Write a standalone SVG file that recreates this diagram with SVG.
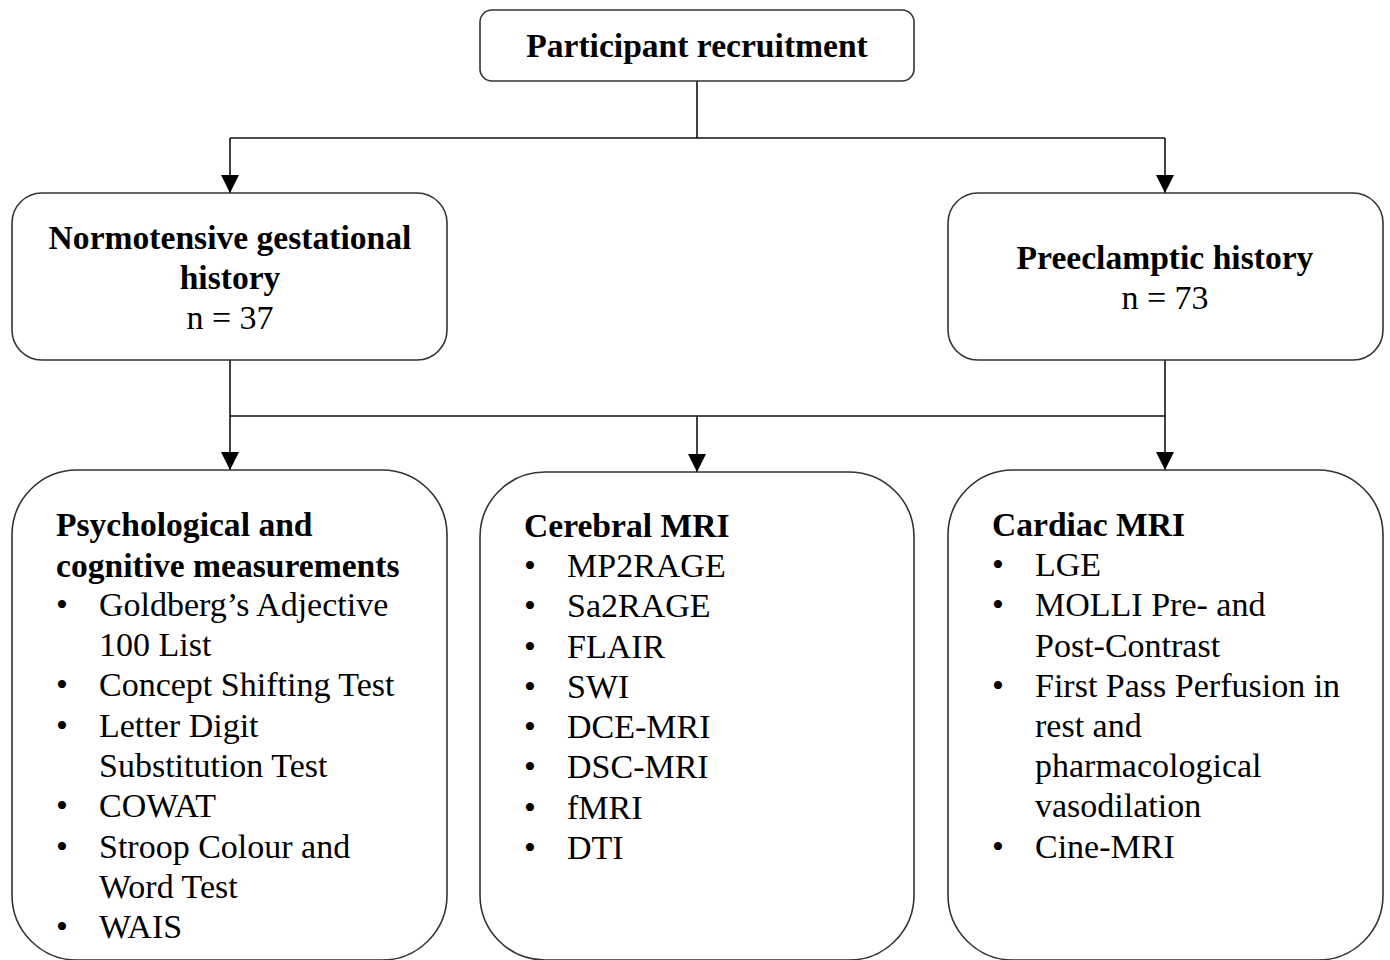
<svg xmlns="http://www.w3.org/2000/svg" width="1390" height="960" viewBox="0 0 1390 960">
<style>
.box{fill:#fff;stroke:#333;stroke-width:1.6}
.ln{fill:none;stroke:#111;stroke-width:1.6}
text{font-family:"Liberation Serif","Times New Roman",serif;font-size:34px;fill:#000}
.b{font-weight:bold;font-size:33.6px}
.c{text-anchor:middle}
</style>
<defs>
<marker id="ah" markerWidth="18" markerHeight="18" refX="18" refY="9" orient="auto" markerUnits="userSpaceOnUse">
<path d="M0,0 L18,9 L0,18 Z" fill="#000"/>
</marker>
</defs>
<rect width="1390" height="960" fill="#fff"/>
<g id="connectors">
<path class="ln" d="M697,81 V138"/>
<path class="ln" d="M230,138 H1165"/>
<path class="ln" d="M230,138 V193" marker-end="url(#ah)"/>
<path class="ln" d="M1165,138 V193" marker-end="url(#ah)"/>
<path class="ln" d="M230,360 V470" marker-end="url(#ah)"/>
<path class="ln" d="M1165,360 V470" marker-end="url(#ah)"/>
<path class="ln" d="M230,416 H1165"/>
<path class="ln" d="M697,416 V472" marker-end="url(#ah)"/>
</g>
<g id="recruitment">
<rect class="box" x="480" y="10" width="434" height="71" rx="12"/>
<text class="b c" x="697" y="57">Participant recruitment</text>
</g>
<g id="normotensive">
<rect class="box" x="12" y="193" width="435" height="167" rx="30"/>
<text class="b c" x="230" y="249">Normotensive gestational</text>
<text class="b c" x="230" y="289">history</text>
<text class="c" x="230" y="329">n = 37</text>
</g>
<g id="preeclamptic">
<rect class="box" x="948" y="193" width="435" height="167" rx="30"/>
<text class="b c" x="1165" y="269">Preeclamptic history</text>
<text class="c" x="1165" y="309">n = 73</text>
</g>
<g id="psychological">
<rect class="box" x="12" y="470" width="435" height="490" rx="65"/>
<text class="b" x="56" y="536">Psychological and</text>
<text class="b" x="56" y="577">cognitive measurements</text>
<text x="56" y="616">•</text><text x="99" y="616">Goldberg’s Adjective</text>
<text x="99" y="656">100 List</text>
<text x="56" y="696">•</text><text x="99" y="696">Concept Shifting Test</text>
<text x="56" y="737">•</text><text x="99" y="737">Letter Digit</text>
<text x="99" y="777">Substitution Test</text>
<text x="56" y="817">•</text><text x="99" y="817">COWAT</text>
<text x="56" y="858">•</text><text x="99" y="858">Stroop Colour and</text>
<text x="99" y="898">Word Test</text>
<text x="56" y="938">•</text><text x="99" y="938">WAIS</text>
</g>
<g id="cerebral">
<rect class="box" x="480" y="472" width="434" height="488" rx="65"/>
<text class="b" x="524" y="537">Cerebral MRI</text>
<text x="524" y="577">•</text><text x="567" y="577">MP2RAGE</text>
<text x="524" y="617">•</text><text x="567" y="617">Sa2RAGE</text>
<text x="524" y="658">•</text><text x="567" y="658">FLAIR</text>
<text x="524" y="698">•</text><text x="567" y="698">SWI</text>
<text x="524" y="738">•</text><text x="567" y="738">DCE-MRI</text>
<text x="524" y="778">•</text><text x="567" y="778">DSC-MRI</text>
<text x="524" y="819">•</text><text x="567" y="819">fMRI</text>
<text x="524" y="859">•</text><text x="567" y="859">DTI</text>
</g>
<g id="cardiac">
<rect class="box" x="948" y="470" width="435" height="490" rx="65"/>
<text class="b" x="992" y="536">Cardiac MRI</text>
<text x="992" y="576">•</text><text x="1035" y="576">LGE</text>
<text x="992" y="616">•</text><text x="1035" y="616">MOLLI Pre- and</text>
<text x="1035" y="657">Post-Contrast</text>
<text x="992" y="697">•</text><text x="1035" y="697">First Pass Perfusion in</text>
<text x="1035" y="737">rest and</text>
<text x="1035" y="777">pharmacological</text>
<text x="1035" y="817">vasodilation</text>
<text x="992" y="858">•</text><text x="1035" y="858">Cine-MRI</text>
</g>
</svg>
